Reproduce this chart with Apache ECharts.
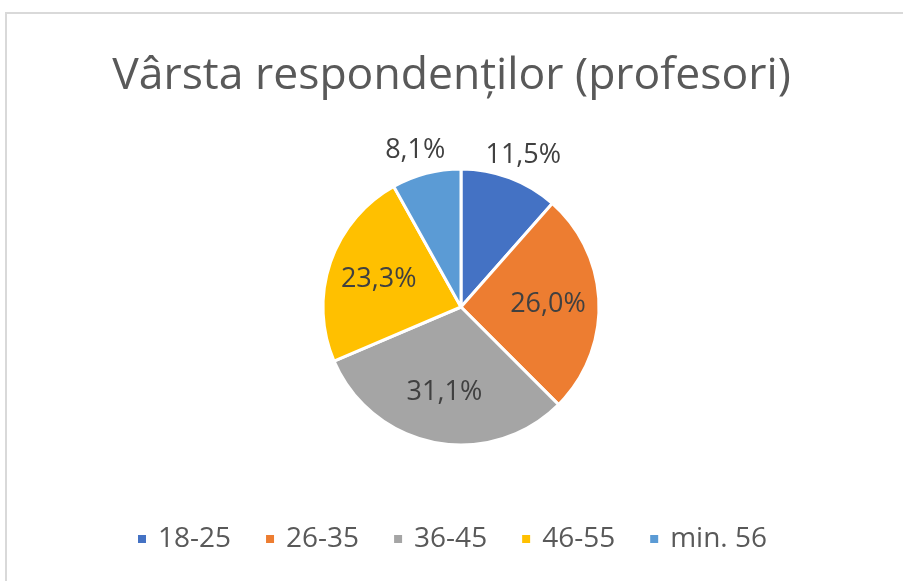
<!DOCTYPE html>
<html>
<head>
<meta charset="utf-8">
<script src="https://cdn.jsdelivr.net/npm/echarts@6/dist/echarts.min.js"></script>
<style>
html,body{margin:0;padding:0;background:#fff;}
#frame{position:absolute;left:5px;top:12px;width:900px;height:575px;border:2px solid #d9d9d9;box-sizing:border-box;}
#chart{width:903px;height:581px;position:absolute;left:0;top:0;}
</style>
</head>
<body>
<div id="frame"></div>
<div id="chart"></div>
<script>
var categories = ['18-25', '26-35', '36-45', '46-55', 'min. 56'];
var values = [11.5, 26.0, 31.1, 23.3, 8.1];
var colors = ['#4472C4', '#ED7D31', '#A5A5A5', '#FFC000', '#5B9BD5'];
// small slices get their label outside, like excel best fit
var outsideLabel = [true, false, false, false, true];

var myChart = echarts.init(document.getElementById('chart'));

function fmt(p) {
    return p.value.toFixed(1).replace('.', ',') + '%';
}

var labelFont = {fontFamily: 'Open Sans', fontSize: 27, color: '#404040'};

var data = [];
var labelData = [];
for (var i = 0; i < categories.length; i++) {
    data.push({
        name: categories[i], value: values[i],
        itemStyle: {color: colors[i]},
        label: {show: outsideLabel[i]}
    });
    labelData.push({
        name: categories[i], value: values[i],
        label: {show: !outsideLabel[i]}
    });
}

var option = {
    backgroundColor: 'transparent',
    animation: false,
    color: colors,
    title: {
        text: 'Vârsta respondenților (profesori)',
        left: 'center',
        top: 49,
        textStyle: {
            fontFamily: 'Open Sans',
            fontWeight: 'normal',
            fontSize: 44.5,
            color: '#595959'
        }
    },
    legend: {
        bottom: 23,
        left: 'center',
        itemWidth: 10,
        itemHeight: 10,
        itemGap: 33,
        icon: 'rect',
        textStyle: {fontFamily: 'Open Sans', fontSize: 28, color: '#595959', padding: [0, 0, 0, 6]},
        data: categories
    },
    series: [{
        name: 'Vârsta',
        type: 'pie',
        center: [461, 307],
        radius: 138,
        startAngle: 90,
        clockwise: true,
        itemStyle: {borderColor: '#fff', borderWidth: 3},
        label: Object.assign({position: 'outside', formatter: fmt}, labelFont),
        labelLine: {show: false, length: 24, length2: 0},
        labelLayout: {align: 'center', verticalAlign: 'middle'},
        data: data
    }, {
        // transparent ring only to push the inside labels outward a bit
        name: 'labels',
        type: 'pie',
        center: [461, 307],
        radius: [30, 138],
        startAngle: 90,
        clockwise: true,
        silent: true,
        itemStyle: {color: 'rgba(0,0,0,0)', borderWidth: 0},
        label: Object.assign({position: 'inside', formatter: fmt}, labelFont),
        labelLine: {show: false},
        data: labelData
    }]
};

myChart.setOption(option);
</script>
</body>
</html>
